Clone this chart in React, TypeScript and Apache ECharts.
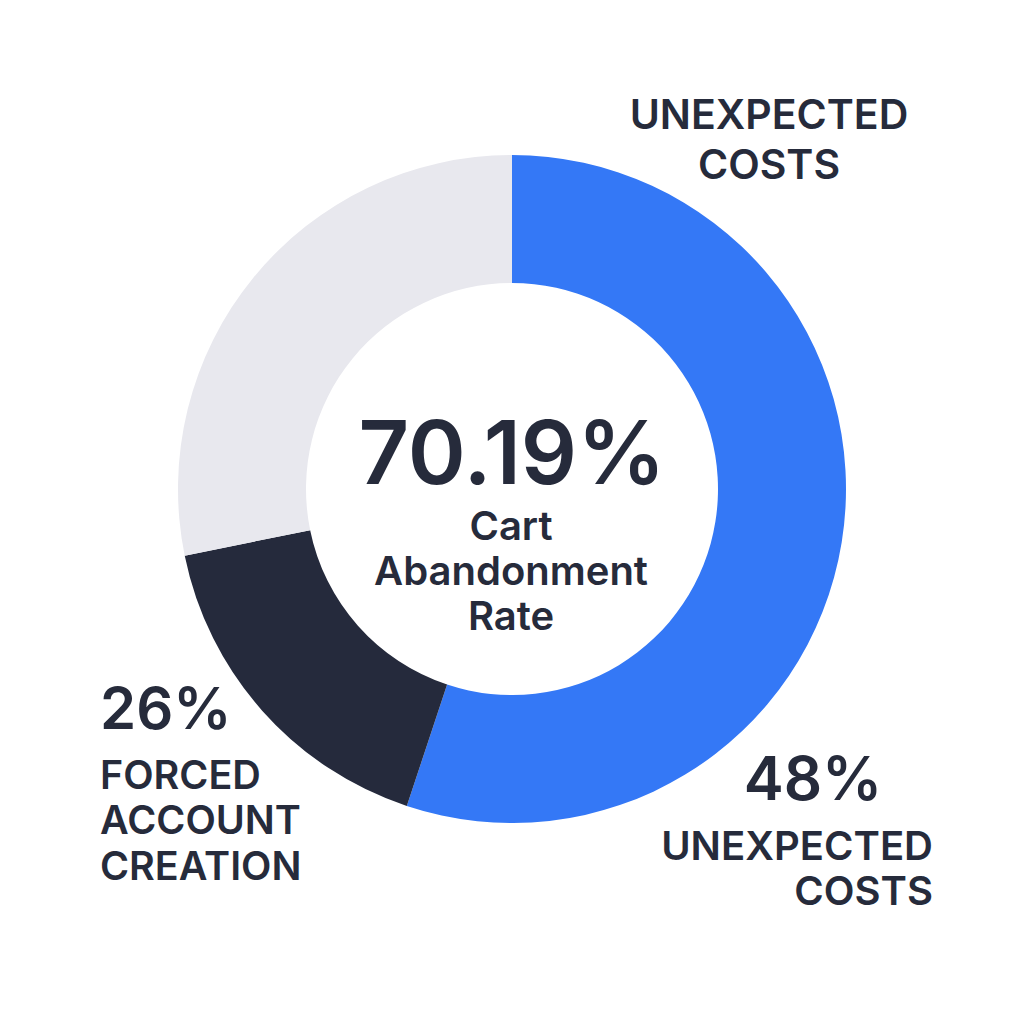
import React, { useEffect, useRef } from "react";
import * as echarts from "echarts";

// Segments (angular shares read from the ring)
const categories = ["Unexpected costs", "Forced account creation", "Other"];
const shares = [55.1, 16.7, 28.2];
const colors = ["#3478F6", "#252A3C", "#E8E8EE"];

// Texts
const centerValue = "70.19%";
const centerLines = ["Cart", "Abandonment", "Rate"];
const topLabelLines = ["UNEXPECTED", "COSTS"];
const rightValue = "48%";
const rightLines = ["UNEXPECTED", "COSTS"];
const leftValue = "26%";
const leftLines = ["FORCED", "ACCOUNT", "CREATION"];

const TEXT = "#262B3B";
const FONT = "Inter, 'Noto Sans', sans-serif";

function txt(x: number, y: number, text: string, size: number, align: string) {
  return {
    type: "text",
    x,
    y,
    style: {
      text,
      fill: TEXT,
      font: `600 ${size}px ${FONT}`,
      textAlign: align,
      textVerticalAlign: "middle",
    },
  };
}

export default function App() {
  const ref = useRef<HTMLDivElement>(null);
  useEffect(() => {
    document.body.style.margin = "0";
    const chart = echarts.init(ref.current!, null, { renderer: "svg" });
    const graphics: any[] = [];
    graphics.push(txt(512, 452, centerValue, 88, "center"));
    centerLines.forEach((l, i) => graphics.push(txt(511, 525 + i * 45, l, 40, "center")));
    topLabelLines.forEach((l, i) => graphics.push(txt(769, 113.5 + i * 50.5, l, 41, "center")));
    graphics.push(txt(813, 777.5, rightValue, 60, "center"));
    rightLines.forEach((l, i) => graphics.push(txt(933, 845.5 + i * 45, l, 40, "right")));
    graphics.push(txt(100, 707.5, leftValue, 58, "left"));
    leftLines.forEach((l, i) => graphics.push(txt(100, 774.5 + i * 45.5, l, 39.5, "left")));

    chart.setOption({
      animation: false,
      backgroundColor: "#ffffff",
      series: [
        {
          type: "pie",
          center: [512, 489],
          radius: [206, 334],
          startAngle: 90,
          clockwise: true,
          label: { show: false },
          labelLine: { show: false },
          emphasis: { disabled: true },
          itemStyle: { borderWidth: 0 },
          data: categories.map((c, i) => ({
            name: c,
            value: shares[i],
            itemStyle: { color: colors[i] },
          })),
        },
      ],
      graphic: graphics,
    });
    return () => chart.dispose();
  }, []);
  return <div ref={ref} style={{ width: 1024, height: 1024 }} />;
}
